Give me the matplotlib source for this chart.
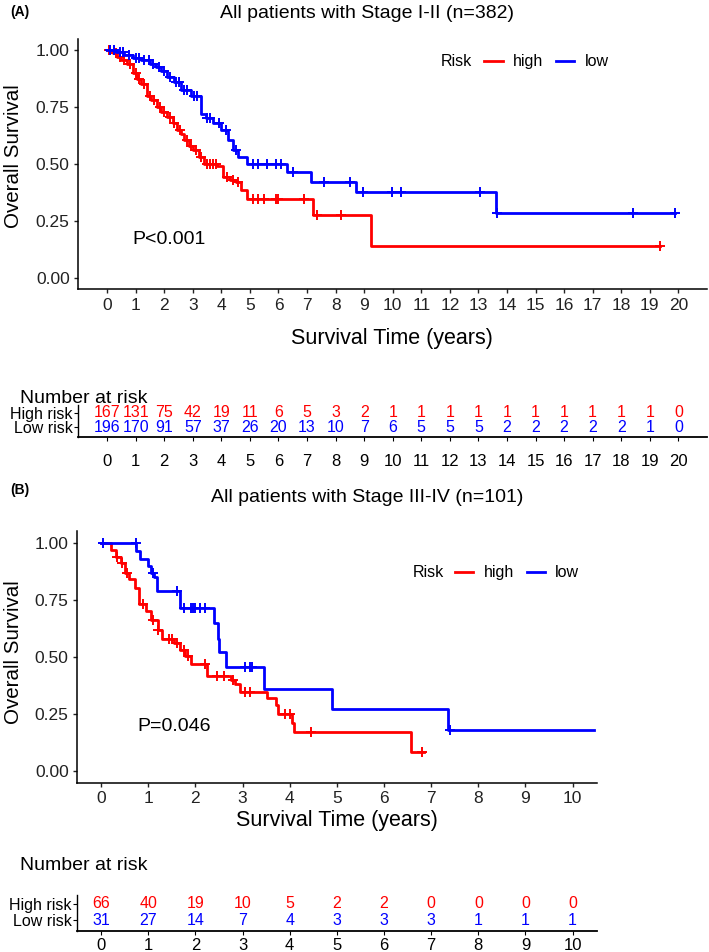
import numpy as np
import matplotlib.pyplot as plt

plt.rcParams['font.family'] = ['Liberation Sans', 'DejaVu Sans']

RED = '#ff0000'
BLUE = '#0000ff'

# ---- Panel A: Stage I-II ----
a_high_t = [0, 0.2, 0.35, 0.5, 0.7, 0.9, 1.05, 1.2, 1.4, 1.55, 1.75, 1.9, 2.1, 2.3, 2.45, 2.6, 2.7, 2.85,
            3.0, 3.2, 3.4, 3.85, 4.05, 4.3, 4.5, 4.7, 4.9, 7.2, 9.25]
a_high_s = [1.0, 0.985, 0.97, 0.955, 0.94, 0.90, 0.875, 0.85, 0.80, 0.78, 0.75, 0.73, 0.705, 0.68, 0.65,
            0.63, 0.605, 0.58, 0.56, 0.53, 0.50, 0.49, 0.445, 0.43, 0.42, 0.385, 0.345, 0.278, 0.14]
a_high_end = 19.35
a_high_cens = [0.05, 0.1, 0.3, 0.45, 0.6, 0.8, 1.0, 1.1, 1.3, 1.5, 1.65, 1.85, 2.0, 2.2, 2.35, 2.55, 2.8,
               2.95, 3.1, 3.3, 3.5, 3.6, 3.7, 3.8, 4.2, 4.4, 4.6, 5.1, 5.3, 5.5, 5.9, 6.0, 6.9, 7.35, 8.2, 19.35]

a_low_t = [0, 0.3, 0.6, 0.9, 1.2, 1.5, 1.7, 1.9, 2.1, 2.35, 2.6, 2.95, 3.3, 3.45, 3.7, 4.0, 4.25, 4.4,
           4.6, 4.9, 6.3, 7.15, 8.7, 13.6]
a_low_s = [1.0, 0.99, 0.978, 0.965, 0.956, 0.94, 0.925, 0.91, 0.883, 0.86, 0.825, 0.80, 0.72, 0.70, 0.68,
           0.65, 0.605, 0.56, 0.53, 0.50, 0.466, 0.422, 0.377, 0.286]
a_low_end = 19.9
a_low_cens = [0.1, 0.25, 0.45, 0.55, 0.75, 1.0, 1.1, 1.3, 1.45, 1.6, 1.8, 2.0, 2.2, 2.4, 2.5, 2.7, 2.8, 3.05,
              3.15, 3.5, 3.6, 3.9, 4.15, 4.5, 5.1, 5.3, 5.6, 5.9, 6.1, 6.5, 7.6, 8.5, 8.95, 9.97, 10.3,
              13.07, 13.65, 18.43, 19.87]

a_times = list(range(0, 21))
a_risk_high = [167, 131, 75, 42, 19, 11, 6, 5, 3, 2, 1, 1, 1, 1, 1, 1, 1, 1, 1, 1, 0]
a_risk_low = [196, 170, 91, 57, 37, 26, 20, 13, 10, 7, 6, 5, 5, 5, 2, 2, 2, 2, 2, 1, 0]

# ---- Panel B: Stage III-IV ----
b_high_t = [0, 0.22, 0.32, 0.42, 0.5, 0.6, 0.72, 0.8, 0.95, 1.05, 1.2, 1.3, 1.55, 1.68, 1.78, 1.9, 2.25,
            2.75, 2.85, 2.95, 3.52, 3.7, 3.75, 4.05, 4.1, 6.58]
b_high_s = [1.0, 0.97, 0.94, 0.91, 0.87, 0.84, 0.80, 0.73, 0.70, 0.66, 0.62, 0.58, 0.56, 0.53, 0.506, 0.47,
            0.415, 0.40, 0.38, 0.346, 0.32, 0.29, 0.25, 0.21, 0.17, 0.085]
b_high_end = 6.85
b_high_cens = [0.33, 0.45, 0.55, 0.9, 1.1, 1.2, 1.45, 1.5, 1.6, 1.75, 1.85, 2.2, 2.45, 2.6, 2.8, 3.05,
               3.15, 3.9, 4.0, 4.45, 6.8]

b_low_t = [0, 0.75, 0.82, 1.0, 1.06, 1.13, 1.18, 1.67, 2.4, 2.47, 2.51, 2.66, 3.46, 4.9, 7.36]
b_low_s = [1.0, 0.965, 0.93, 0.90, 0.87, 0.85, 0.79, 0.713, 0.65, 0.58, 0.52, 0.455, 0.36, 0.27, 0.18]
b_low_end = 10.45
b_low_cens = [0.05, 0.74, 1.1, 1.6, 1.75, 1.9, 1.95, 2.0, 2.1, 2.2, 3.05, 3.15, 3.2, 7.4]

b_times = list(range(0, 11))
b_risk_high = [66, 40, 19, 10, 5, 2, 2, 0, 0, 0, 0]
b_risk_low = [31, 27, 14, 7, 4, 3, 3, 3, 1, 1, 1]


def draw_km(ax, t, s, end, cens, color, label):
    tt = list(t) + [end]
    ss = list(s) + [s[-1]]
    ax.step(tt, ss, where='post', color=color, lw=2.0, label=label,
            marker='+', markevery=[len(tt) - 1], ms=0)
    # censoring ticks sit on the curve
    idx = np.searchsorted(t, cens, side='right') - 1
    ax.plot(cens, np.array(s)[idx], ls='none', marker='+', ms=7.5, mew=1.4, color=color)


def style_main(ax, xlim, xticks):
    ax.set_xlim(*xlim)
    ax.set_ylim(-0.05, 1.05)
    ax.set_xticks(xticks)
    ax.set_yticks([0, 0.25, 0.5, 0.75, 1.0])
    ax.set_yticklabels(['0.00', '0.25', '0.50', '0.75', '1.00'])
    for sp in ['top', 'right']:
        ax.spines[sp].set_visible(False)
    for sp in ['left', 'bottom']:
        ax.spines[sp].set_linewidth(1.1)
    ax.tick_params(length=3, width=1.0, labelsize=12.5, pad=3, colors='#222222', labelcolor='#222222')
    ax.set_ylabel('Overall Survival', fontsize=14.8)
    ax.set_xlabel('Survival Time (years)', fontsize=15.5, va='top')


def style_table(ax, xlim, times, high, low, pad):
    ax.set_xlim(*xlim)
    ax.set_ylim(0, 2)
    ax.set_xticks(times)
    ax.set_yticks([1.5, 0.6])
    ax.set_yticklabels(['High risk', 'Low risk'])
    for sp in ['top', 'right']:
        ax.spines[sp].set_visible(False)
    ax.spines['left'].set_linewidth(1.0)
    ax.spines['bottom'].set_linewidth(1.3)
    ax.tick_params(axis='y', length=3, labelsize=11.5, pad=1)
    ax.tick_params(axis='x', length=3, labelsize=12, pad=pad)
    for x, h, l in zip(times, high, low):
        ax.text(x, 1.5, str(h), color=RED, ha='center', va='center', fontsize=11.5)
        ax.text(x, 0.6, str(l), color=BLUE, ha='center', va='center', fontsize=11.5)


fig = plt.figure(figsize=(7.09, 9.52), dpi=100)

# ---------- (A) ----------
axA = fig.add_axes([0.110, 0.696, 0.887, 0.2634])
draw_km(axA, a_high_t, a_high_s, a_high_end, a_high_cens, RED, 'high')
draw_km(axA, a_low_t, a_low_s, a_low_end, a_low_cens, BLUE, 'low')
style_main(axA, (-1.02, 21.0), a_times)
axA.yaxis.set_label_coords(-0.087, 0.53)
axA.xaxis.set_label_coords(0.5, -0.155)
axA.text(0.9, 0.17, 'P<0.001', fontsize=14, va='center', ha='left')
axA.text(0.577, 0.907, 'Risk', fontsize=11.5, va='center', ha='left', transform=axA.transAxes)
axA.legend(loc='center left', bbox_to_anchor=(0.646, 0.907), ncol=2, frameon=False,
           fontsize=11.5, handlelength=1.15, handletextpad=0.65, columnspacing=0.8,
           borderpad=0, borderaxespad=0)

fig.text(10 / 709, 1 - 12 / 952, '(A)', fontsize=10, fontweight='bold', va='center')
fig.text(367 / 709, 1 - 13 / 952, 'All patients with Stage I-II (n=382)', fontsize=14,
         ha='center', va='center')
fig.text(20 / 709, 1 - 398 / 952, 'Number at risk', fontsize=14, va='center')

tA = fig.add_axes([0.110, 0.541, 0.887, 0.0336])
style_table(tA, (-1.02, 21.0), a_times, a_risk_high, a_risk_low, pad=9)

# ---------- (B) ----------
axB = fig.add_axes([0.1086, 0.178, 0.733, 0.2638])
draw_km(axB, b_high_t, b_high_s, b_high_end, b_high_cens, RED, 'high')
draw_km(axB, b_low_t, b_low_s, b_low_end, b_low_cens, BLUE, 'low')
style_main(axB, (-0.51, 10.51), b_times)
axB.yaxis.set_label_coords(-0.104, 0.52)
axB.xaxis.set_label_coords(0.5, -0.11)
axB.text(0.78, 0.194, 'P=0.046', fontsize=14, va='center', ha='left')
axB.text(0.646, 0.835, 'Risk', fontsize=11.5, va='center', ha='left', transform=axB.transAxes)
axB.legend(loc='center left', bbox_to_anchor=(0.727, 0.835), ncol=2, frameon=False,
           fontsize=11.5, handlelength=1.15, handletextpad=0.65, columnspacing=0.8,
           borderpad=0, borderaxespad=0)

fig.text(10 / 709, 1 - 490 / 952, '(B)', fontsize=10, fontweight='bold', va='center')
fig.text(367 / 709, 1 - 498 / 952, 'All patients with Stage III-IV (n=101)', fontsize=14,
         ha='center', va='center')
fig.text(20 / 709, 1 - 866 / 952, 'Number at risk', fontsize=14, va='center')

tB = fig.add_axes([0.1086, 0.0221, 0.733, 0.0378])
style_table(tB, (-0.51, 10.51), b_times, b_risk_high, b_risk_low, pad=2)

fig.savefig('out.png', dpi=100)
